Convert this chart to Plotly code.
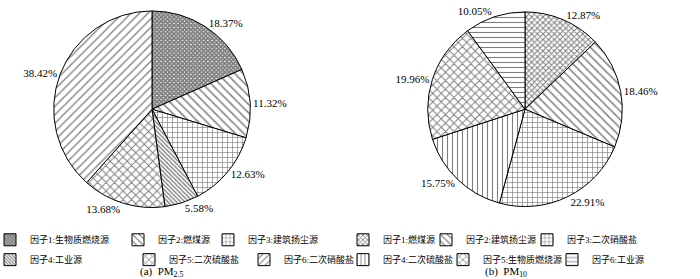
import plotly.graph_objects as go

# PMF source apportionment results
pm25_labels = ["因子1:生物质燃烧源", "因子2:燃煤源", "因子3:建筑扬尘源",
               "因子4:工业源", "因子5:二次硫酸盐", "因子6:二次硝酸盐"]
pm25_values = [18.37, 11.32, 12.63, 5.58, 13.68, 38.42]

pm10_labels = ["因子1:燃煤源", "因子2:建筑扬尘源", "因子3:二次硝酸盐",
               "因子4:二次硫酸盐", "因子5:生物质燃烧源", "因子6:工业源"]
pm10_values = [12.87, 18.46, 22.91, 15.75, 19.96, 10.05]

captions = ["(a)  PM<sub>2.5</sub>", "(b)  PM<sub>10</sub>"]

# hatch styles (shape, spacing px, line solidity)
pm25_hatch = [("x", 3, 0.85), ("\\", 6, 0.25), ("+", 5, 0.25),
              ("\\", 3, 0.45), ("x", 6, 0.3), ("/", 6, 0.22)]
pm10_hatch = [("x", 4, 0.45), ("\\", 6, 0.25), ("+", 5, 0.25),
              ("|", 5, 0.22), ("x", 6, 0.3), ("-", 5, 0.22)]

W, H = 700, 279
FONT = "Liberation Serif, Noto Sans CJK SC, serif"


def px_x(x):
    return x / W


def px_y(y):
    return (H - y) / H


def pie_domain(cx, cy, r):
    return dict(x=[px_x(cx - r), px_x(cx + r)], y=[px_y(cy + r), px_y(cy - r)])


def pattern(styles):
    return dict(shape=[s[0] for s in styles], size=[s[1] for s in styles],
                solidity=[s[2] for s in styles], fgcolor="black", bgcolor="white",
                fillmode="overlay")


fig = go.Figure()

for vals, labels, styles, dom in [
    (pm25_values, pm25_labels, pm25_hatch, pie_domain(152, 108, 99)),
    (pm10_values, pm10_labels, pm10_hatch, pie_domain(525, 108, 98)),
]:
    fig.add_trace(go.Pie(
        values=vals, labels=labels, sort=False, direction="clockwise", rotation=0,
        domain=dom, showlegend=False,
        marker=dict(colors=["white"] * len(vals), line=dict(color="black", width=1),
                    pattern=pattern(styles)),
        texttemplate="%{value:.2f}%", textposition="outside",
        textfont=dict(family=FONT, size=11, color="black"),
        hoverinfo="label+value",
    ))

# legend rows: three entries per row, one legend per entry (swatch left edge, px)
legend_swatch_px = [4, 132, 222, 4, 143, 258, 357, 440, 541, 357, 457, 566]
legend_row_y = [239.5, 259.5]

all_labels = pm25_labels + pm10_labels
all_styles = pm25_hatch + pm10_hatch
layout_legends = {}
for i, (lab, st) in enumerate(zip(all_labels, all_styles)):
    name = "legend" if i == 0 else f"legend{i + 1}"
    fig.add_trace(go.Bar(
        x=[None], y=[None], name=lab, legend=name, showlegend=True,
        marker=dict(color="white", line=dict(color="black", width=1),
                    pattern=dict(shape=st[0], size=st[1], solidity=st[2],
                                 fgcolor="black", bgcolor="white", fillmode="overlay")),
    ))
    row = (i % 6) // 3
    left = legend_swatch_px[i] - 14
    layout_legends[name] = dict(
        x=px_x(max(left, 0)), xanchor="left",
        y=px_y(legend_row_y[row]), yanchor="middle",
        indentation=min(left, 0),
        orientation="h", bgcolor="rgba(0,0,0,0)", borderwidth=0,
        font=dict(family=FONT, size=9, color="black"),
        itemwidth=30, itemclick=False, itemdoubleclick=False,
    )

fig.update_layout(**layout_legends)

for cap, cx in zip(captions, [161, 506]):
    fig.add_annotation(text=cap, x=px_x(cx), y=px_y(272), xref="paper", yref="paper",
                       showarrow=False, xanchor="center", yanchor="middle",
                       font=dict(family=FONT, size=11, color="black"))

fig.update_layout(
    width=W, height=H, margin=dict(l=0, r=0, t=0, b=0),
    paper_bgcolor="white", plot_bgcolor="white",
    xaxis=dict(visible=False), yaxis=dict(visible=False),
)

fig.write_html("out.html")
